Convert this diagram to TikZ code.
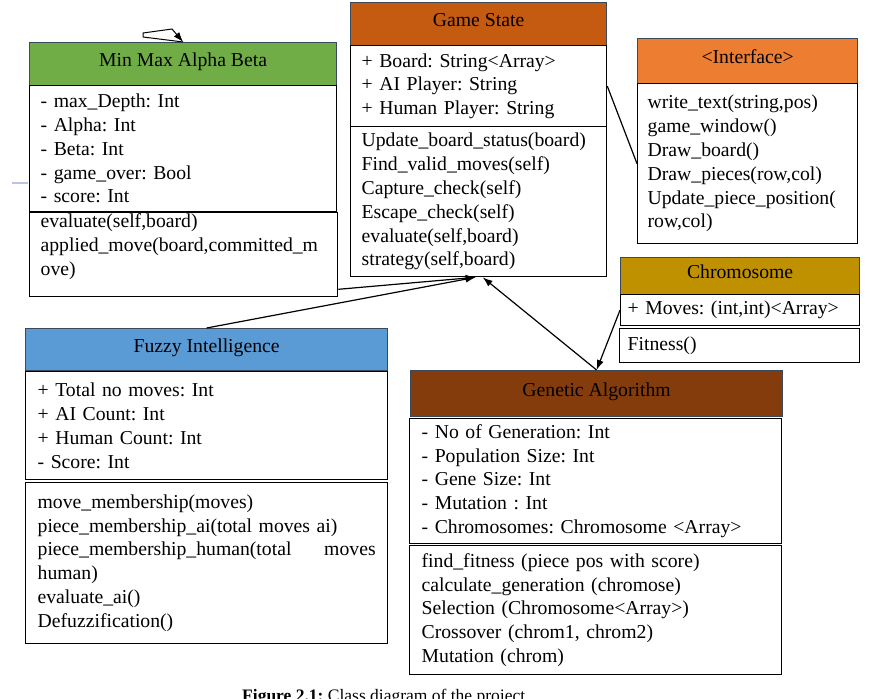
\documentclass[tikz,border=0pt]{standalone}
\usepackage{fontspec}
\setmainfont{Liberation Serif}
\usetikzlibrary{arrows.meta}
\frenchspacing
\definecolor{mmgreen}{HTML}{70AD47}
\definecolor{gsorange}{HTML}{C55A11}
\definecolor{iforange}{HTML}{ED7D31}
\definecolor{chgold}{HTML}{BF9000}
\definecolor{fzblue}{HTML}{5B9BD5}
\definecolor{gabrown}{HTML}{843C0C}
\definecolor{hdrline}{HTML}{3A4A5A}
\definecolor{faint}{HTML}{B4C7E7}
\newcommand{\umlfont}{\fontsize{19.7}{23.8}\selectfont\frenchspacing}
\begin{document}
\begin{tikzpicture}[x=1pt,y=-1pt,
  hdr/.style={draw=hdrline, line width=1.2pt, anchor=north west, inner xsep=0pt, inner ysep=0pt,
    align=center, font=\umlfont, text height=13.5pt, text depth=8pt},
  comp/.style={draw=black, line width=1.3pt, anchor=north west, inner xsep=11pt, inner ysep=0pt,
    align=left, font=\umlfont},
  conn/.style={draw=black, line width=1.2pt},
  arr/.style={conn, -{Latex[length=10pt,width=7pt]}}
]
\useasboundingbox (0,0) rectangle (869,698);
\clip (0,0) rectangle (869,698);

% Min Max Alpha Beta
\node[hdr, fill=mmgreen, minimum width=307pt, minimum height=43pt] (mmh) at (29,42) {Min Max Alpha Beta};
\node[comp, text width=285pt, minimum height=126pt] (mma) at (29,85)
  {- max\_Depth: Int\\- Alpha: Int\\- Beta: Int\\- game\_over: Bool\\- score: Int};
\node[comp, text width=286pt, minimum height=84pt] (mmm) at (29,212)
  {evaluate(self,board)\\applied\_move(board,committed\_m\\ove)\\[-4pt]\mbox{}};

% Game State
\node[hdr, fill=gsorange, minimum width=256pt, minimum height=43pt] (gsh) at (350,2) {Game State};
\node[comp, text width=234pt, minimum height=81pt] (gsa) at (350,45)
  {+ Board: String<Array>\\+ AI Player: String\\+ Human Player: String};
\node[comp, text width=234pt, minimum height=150pt] (gsm) at (350,126)
  {Update\_board\_status(board)\\Find\_valid\_moves(self)\\Capture\_check(self)\\Escape\_check(self)\\evaluate(self,board)\\strategy(self,board)};

% Interface
\node[hdr, fill=iforange, minimum width=220pt, minimum height=45pt] (ifh) at (637,38) {<Interface>};
\node[comp, inner xsep=10pt, text width=200pt, minimum height=160pt] (ifb) at (637,83)
  {write\_text(string,pos)\\game\_window()\\Draw\_board()\\Draw\_pieces(row,col)\\Update\_piece\_position(\\row,col)};

% Chromosome
\node[hdr, fill=chgold, minimum width=239pt, minimum height=37pt] (chh) at (620,257) {Chromosome};
\node[comp, inner xsep=7pt, text width=225pt, minimum height=31pt] (cha) at (620,294)
  {+ Moves: (int,int)<Array>};
\node[comp, inner xsep=8pt, text width=224pt, minimum height=34pt] (chm) at (619,328) {Fitness()};

% Fuzzy Intelligence
\node[hdr, fill=fzblue, minimum width=362pt, minimum height=42pt] (fh) at (25,328) {Fuzzy Intelligence};
\node[comp, inner xsep=12pt, text width=338pt, minimum height=108pt] (fa) at (25,371)
  {+ Total no moves: Int\\+ AI Count: Int\\+ Human Count: Int\\- Score: Int};
\node[comp, inner xsep=12pt, text width=338pt, minimum height=161pt] (fm) at (25,482)
  {move\_membership(moves)\\piece\_membership\_ai(total moves ai)\\piece\_membership\_human(total\hskip 0pt plus 1filll moves\\human)\\evaluate\_ai()\\Defuzzification()};

% Genetic Algorithm
\node[hdr, fill=gabrown, minimum width=372pt, minimum height=46pt] (gah) at (410,370) {Genetic Algorithm};
\node[comp, inner xsep=12pt, text width=348pt, minimum height=125pt] (gaa) at (409,418)
  {- No of Generation: Int\\- Population Size: Int\\- Gene Size: Int\\- Mutation : Int\\- Chromosomes: Chromosome <Array>};
\node[comp, inner xsep=12pt, text width=348pt, minimum height=129pt] (gam) at (409,545)
  {find\_fitness (piece pos with score)\\calculate\_generation (chromose)\\Selection (Chromosome<Array>)\\Crossover (chrom1, chrom2)\\Mutation (chrom)};

% Connectors
\draw[arr] ([yshift=8pt]mmm.south east) -- ([xshift=-3pt]gsm.south);
\draw[arr] (fh.north) -- ([xshift=-3pt]gsm.south);
\draw[arr] (gah.north) -- ([xshift=4pt]gsm.south);
\draw[arr] (cha.west) -- (gah.north);
\draw[conn] (gsa.east) -- (ifb.west);

% stray marks
\coordinate (s1) at (143,37);
\coordinate (s2) at (143,33);
\coordinate (s3) at (172,29);
\draw[arr, line width=1pt] (s1) -- (s2) -- (s3) -- (mmh.north);
\draw[conn, line width=1pt] (s1) -- (mmh.north);
\coordinate (b1) at (12,183);
\coordinate (b2) at (28,183);
\draw[faint, line width=1.5pt] (b1) -- (b2);

% caption
\node[anchor=base west, inner sep=0pt, font=\fontsize{17.5}{21}\selectfont\frenchspacing] (cap) at (242,701)
  {\textbf{Figure 2.1:} Class diagram of the project};
\end{tikzpicture}
\end{document}
